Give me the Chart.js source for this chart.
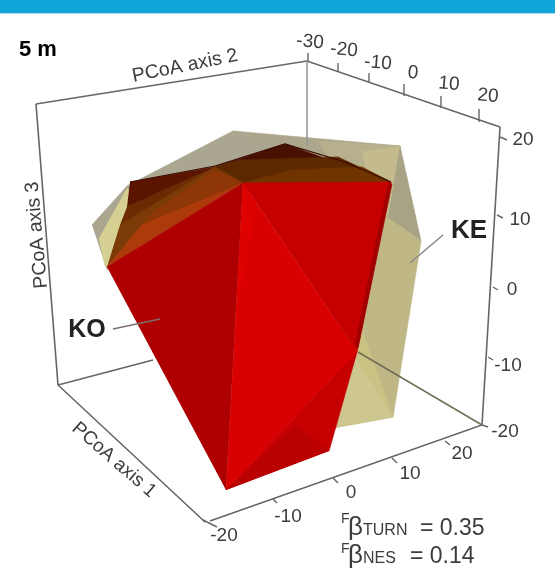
<!DOCTYPE html>
<html>
<head>
<meta charset="utf-8">
<style>
html,body{margin:0;padding:0;background:#fff}
canvas{display:block;filter:blur(0.75px)}
</style>
<script src="https://cdn.jsdelivr.net/npm/chart.js@4"></script>
</head>
<body>
<canvas id="c" width="555" height="587"></canvas>
<script>
// Projected picture-plane coordinates of the hull vertices and box
const headerBand=[[0,0],[555,0],[555,13],[0,13]];

const boxBackTop=[[36,104],[307,61],[500,127]];
const boxLeft=[[36,104],[58,385],[205,522]];
const boxRight=[[500,127],[482,425],[210,521]];
const boxBackVertical=[[307,61],[307,146]];
const boxFloorRight=[[358,352],[482,425]];
const boxFloorLeft=[[58,385],[153,360]];

const keLeftGrey=[[92,225],[127,186],[233,131],[290,142],[200,200],[107,270]];
const keLeftLight=[[127,188],[135,200],[112,267],[105,266],[99,238]];
const keTop=[[233,131],[400,146],[388,218],[350,200],[285,150]];
const keTopMid=[[318,141],[400,146],[388,218],[350,190]];
const keTopLight=[[362,152],[400,146],[388,218],[370,190]];
const keRightGrey=[[400,146],[421,241],[388,218]];
const keMain=[[388,218],[421,241],[393,417],[338,427],[330,430],[345,300],[370,200]];
const keLower=[[350,345],[393,417],[338,427],[330,430]];
const keLowerInner=[[362,330],[393,417],[352,350]];

const koLeft=[[107,267],[243,183],[226,490]];
const koCentre=[[243,183],[357,352],[226,490]];
const koSliver=[[243,183],[256,205],[236,320]];
const koRight=[[243,183],[391,182],[357,352]];
const koRightEdge=[[388,183],[392,184],[358,348],[355,344]];
const koLower=[[226,490],[357,352],[329,451]];
const koLowerDark=[[226,490],[295,425],[329,451]];

const brownA=[[130,182],[215,167],[127,207]];
const brownB=[[127,207],[215,167],[225,174],[120,225]];
const brownC=[[120,225],[215,167],[243,183],[142,225],[107,267]];
const brownC2=[[150,215],[215,170],[243,183],[142,225]];
const brownD=[[107,267],[142,225],[243,183]];
const brownTopA=[[215,167],[285,144],[391,182],[243,183],[225,180]];
const brownTopB=[[215,167],[240,160],[338,157],[391,182],[243,183],[225,180]];
const brownTopC=[[243,183],[292,170],[362,167],[391,182]];
const topEdge=[[130,182],[215,166],[285,144],[345,162],[391,182]];

const leaderKE=[[443,235],[410,263]];
const leaderKO=[[113,329],[160,319]];

const ticksAxis2=[[[308,61],[308,53]],[[338,72],[338,63]],[[369,83],[369,73]],[[404,96],[404,84]],[[441,108],[441,96]],[[479,122],[479,109]]];
const ticksAxis3=[[[500,137],[507,140]],[[497,215],[503,218]],[[493,287],[498,290]],[[488,357],[493,360]],[[482,425],[488,427]]];
const ticksAxis1=[[[203,520],[217,527]],[[273,499],[277,503]],[[333,478],[338,483]],[[392,458],[397,463]],[[445,441],[450,445]]];

const labelsAxis2=['-30','-20','-10','0','10','20'];
const posAxis2=[[310,42],[344,50],[378,63],[413,73],[449,84],[488,96]];
const labelsAxis3=['20','10','0','-10','-20'];
const posAxis3=[[523,140],[520,220],[512,290],[508,366],[505,432]];
const labelsAxis1=['-20','-10','0','10','20'];
const posAxis1=[[224,536],[288,517],[351,493],[410,474],[462,454]];

function poly(data,color){return {data:data.map(p=>({x:p[0],y:p[1]})),showLine:true,fill:'shape',backgroundColor:color,borderColor:color,borderWidth:0.7,tension:0,pointRadius:0,clip:false};}
function line(data,color,w){return {data:data.map(p=>({x:p[0],y:p[1]})),showLine:true,fill:false,borderColor:color,borderWidth:w,tension:0,pointRadius:0,clip:false};}

const layers=[
 poly(headerBand,'#12a5da'),
 line(boxBackTop,'#666',1.6), line(boxLeft,'#666',1.6), line(boxRight,'#666',1.6),
 ...ticksAxis2.concat(ticksAxis3,ticksAxis1).map(t=>line(t,'#666',1.4)),
 line(boxFloorLeft,'#666',1.5),
 poly(keLeftGrey,'#aaa68f'),
 poly(keLeftLight,'#d5cf92'),
 poly(keTop,'#aca78c'),
 poly(keTopMid,'#b6b08c'),
 poly(keTopLight,'#c3bb8d'),
 poly(keRightGrey,'#a9a386'),
 poly(keMain,'#bfb786'),
 poly(keLower,'#cdc68e'),
 poly(keLowerInner,'#c9c283'),
 line(boxBackVertical,'#999',1.6),
 line(boxFloorRight,'#716d55',1.5),
 line(leaderKE,'#888',1.5),
 poly(brownTopA,'#471000'),
 poly(brownTopB,'#5c2800'),
 poly(brownTopC,'#703400'),
 poly(brownA,'#5a1400'),
 poly(brownB,'#6c2a03'),
 poly(brownC,'#7c3a06'),
 poly(brownC2,'#8f3607'),
 poly(brownD,'#ad3a0a'),
 poly(koLeft,'#ae0000'),
 poly(koCentre,'#d80000'),
 poly(koSliver,'#df0000'),
 poly(koRight,'#c60000'),
 poly(koRightEdge,'#a00000'),
 poly(koLower,'#c60000'),
 poly(koLowerDark,'#bb0000'),
 line(topEdge,'#3a0a00',1.2),
 line(leaderKO,'#7c7070',1.3),
];
layers.forEach((d,i)=>{d.order=layers.length-i;});

const textPlugin={id:'texts',afterDraw(chart){
 const c=chart.ctx,sx=chart.scales.x,sy=chart.scales.y;
 const X=v=>sx.getPixelForValue(v),Y=v=>sy.getPixelForValue(v);
 const F='"Liberation Sans", Arial, sans-serif';
 function t(s,x,y,font,col,rot,align,base){c.save();c.translate(X(x),Y(y));c.rotate((rot||0)*Math.PI/180);c.font=font+' '+F;c.fillStyle=col;c.textAlign=align||'center';c.textBaseline=base||'middle';c.fillText(s,0,0);c.restore();}
 const tick='#3c3c3c';
 t('5 m',19,50,'bold 22px','#000',0,'left');
 t('PCoA axis 2',185,66,'19.5px',tick,-11.5);
 t('PCoA axis 3',37,235,'19.5px',tick,-95);
 t('PCoA axis 1',114,460,'19px',tick,41);
 labelsAxis2.forEach((s,i)=>t(s,posAxis2[i][0],posAxis2[i][1],'19px',tick,5));
 labelsAxis3.forEach((s,i)=>t(s,posAxis3[i][0],posAxis3[i][1],'19px',tick));
 labelsAxis1.forEach((s,i)=>t(s,posAxis1[i][0],posAxis1[i][1],'19px',tick));
 t('KE',469,231,'bold 26px','#222');
 t('KO',87,330,'bold 25px','#222');
 const r='alphabetic';
 t('F',341,523,'14px',tick,0,'left',r);
 t('β',348,535,'26px',tick,0,'left',r);
 t('TURN',363,535,'16px',tick,0,'left',r);
 t('= 0.35',420,535,'23px',tick,0,'left',r);
 t('F',341,553,'14px',tick,0,'left',r);
 t('β',348,563,'26px',tick,0,'left',r);
 t('NES',363,563,'16px',tick,0,'left',r);
 t('= 0.14',410,563,'23px',tick,0,'left',r);
}};

new Chart(document.getElementById('c'),{
 type:'scatter',
 data:{datasets:layers},
 options:{responsive:false,animation:false,events:[],
  layout:{padding:0},
  plugins:{legend:{display:false},tooltip:{enabled:false},title:{display:false}},
  scales:{
   x:{type:'linear',min:0,max:555,display:false},
   y:{type:'linear',min:0,max:587,reverse:true,display:false}
  }},
 plugins:[textPlugin]
});
</script>
</body>
</html>
